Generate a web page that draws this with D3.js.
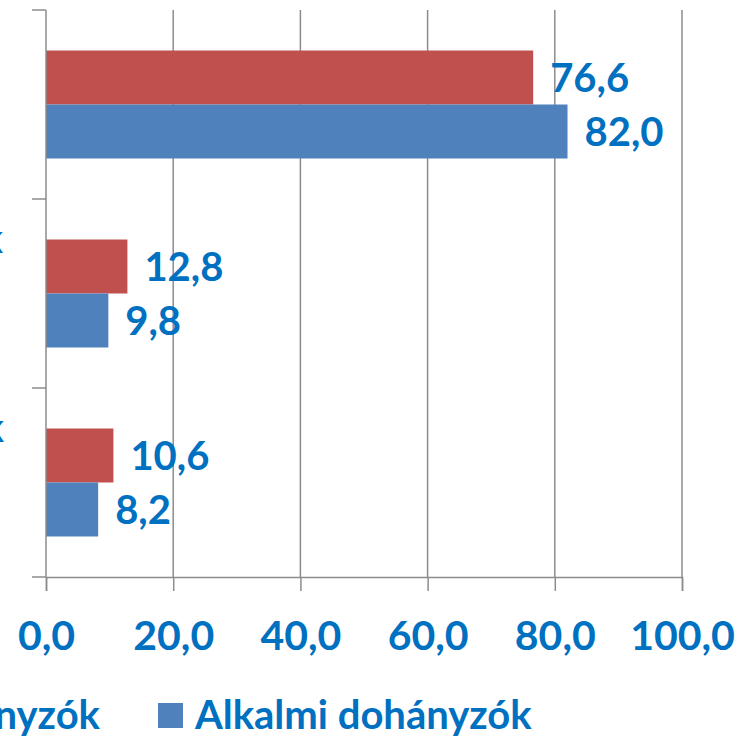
<!DOCTYPE html>
<html>
<head>
<meta charset="utf-8">
<script src="https://cdn.jsdelivr.net/npm/d3@7"></script>
<style>
  body { margin: 0; background: #fff; }
  svg { display: block; }
  text { font-family: "Comic Sans MS", "Lato", sans-serif; font-weight: bold; fill: #0070C0; }
</style>
</head>
<body>
<div id="chart"></div>
<script>
const categories = ["Nem dohányzik", "Rendszeresen dohányzik", "Alkalmanként dohányzik"];
const labelEnds = [-2, 3, 4];
const seriesNames = ["Rendszeres dohányzók", "Alkalmi dohányzók"];
const seriesColors = ["#C0504D", "#4F81BD"];
const redValues = [76.6, 12.8, 10.6];
const blueValues = [82.0, 9.8, 8.2];
const xTicks = [0, 20, 40, 60, 80, 100];

const width = 744, height = 736;
const margin = { top: 10, left: 46, right: 62, bottom: 159 };

const svg = d3.select("#chart").append("svg")
  .attr("width", width).attr("height", height);

const x = d3.scaleLinear().domain([0, 100]).range([margin.left, width - margin.right]);
const y0 = d3.scaleBand().domain(categories).range([margin.top, height - margin.bottom]);
const y1 = d3.scaleBand().domain(seriesNames).range([0, y0.bandwidth()]).paddingOuter(0.75);

const fmt = v => v.toFixed(1).replace(".", ",");

// gridlines
svg.append("g").selectAll("line")
  .data(xTicks.slice(1))
  .join("line")
  .attr("x1", d => x(d)).attr("x2", d => x(d))
  .attr("y1", margin.top).attr("y2", height - margin.bottom)
  .attr("stroke", "#8c8c8c").attr("stroke-width", 1.5);

// bars
const rows = categories.map((c, i) => ({ cat: c, vals: [redValues[i], blueValues[i]] }));
const groups = svg.append("g").selectAll("g")
  .data(rows).join("g")
  .attr("transform", d => `translate(0,${y0(d.cat)})`);

groups.selectAll("rect")
  .data(d => d.vals.map((v, j) => ({ s: seriesNames[j], v, j })))
  .join("rect")
  .attr("x", x(0))
  .attr("y", d => y1(d.s))
  .attr("width", d => x(d.v) - x(0))
  .attr("height", y1.bandwidth())
  .attr("fill", d => seriesColors[d.j]);

groups.selectAll("text.val")
  .data(d => d.vals.map((v, j) => ({ s: seriesNames[j], v, j })))
  .join("text")
  .attr("class", "val")
  .attr("x", d => x(d.v) + 17)
  .attr("y", d => y1(d.s) + y1.bandwidth() / 2)
  .attr("dy", "0.36em")
  .style("font-size", "40px")
  .text(d => fmt(d.v));

// x axis
const xAxis = svg.append("g")
  .attr("transform", `translate(0,${height - margin.bottom})`)
  .call(d3.axisBottom(x).tickValues(xTicks).tickSize(14).tickPadding(30).tickFormat(fmt));
xAxis.select(".domain").attr("stroke", "#8c8c8c").attr("stroke-width", 1.5);
xAxis.selectAll(".tick line").attr("stroke", "#8c8c8c").attr("stroke-width", 1.5);
xAxis.selectAll(".tick text").attr("fill", "#0070C0").style("font-size", "41px")
  .style("font-family", "'Comic Sans MS', Lato, sans-serif").style("font-weight", "bold");

// y axis (ticks at band boundaries)
const yb = [...categories.map(c => y0(c)), height - margin.bottom];
svg.append("line")
  .attr("x1", x(0)).attr("x2", x(0))
  .attr("y1", margin.top).attr("y2", height - margin.bottom)
  .attr("stroke", "#8c8c8c").attr("stroke-width", 1.5);
svg.append("g").selectAll("line")
  .data(yb).join("line")
  .attr("x1", x(0) - 14).attr("x2", x(0))
  .attr("y1", d => d).attr("y2", d => d)
  .attr("stroke", "#8c8c8c").attr("stroke-width", 1.5);

// category labels (cut off at the left edge, as in the source)
svg.append("g").selectAll("text")
  .data(categories).join("text")
  .attr("text-anchor", "end")
  .attr("x", (d, i) => labelEnds[i])
  .attr("y", d => y0(d) + 40)
  .attr("dy", "0.36em")
  .style("font-size", "40px")
  .text(d => d);

// legend
const legY = 715;
const blue = svg.append("g");
blue.append("rect").attr("x", 158).attr("y", legY - 12).attr("width", 25).attr("height", 25).attr("fill", seriesColors[1]);
blue.append("text").attr("x", 195).attr("y", legY).attr("dy", "0.36em").style("font-size", "40px").text(seriesNames[1]);

const red = svg.append("g");
const redText = red.append("text").attr("x", 100).attr("y", legY).attr("dy", "0.36em")
  .attr("text-anchor", "end").style("font-size", "40px").text(seriesNames[0]);
const rw = redText.node().getComputedTextLength();
red.append("rect").attr("x", 100 - rw - 37).attr("y", legY - 12).attr("width", 25).attr("height", 25).attr("fill", seriesColors[0]);
</script>
</body>
</html>
